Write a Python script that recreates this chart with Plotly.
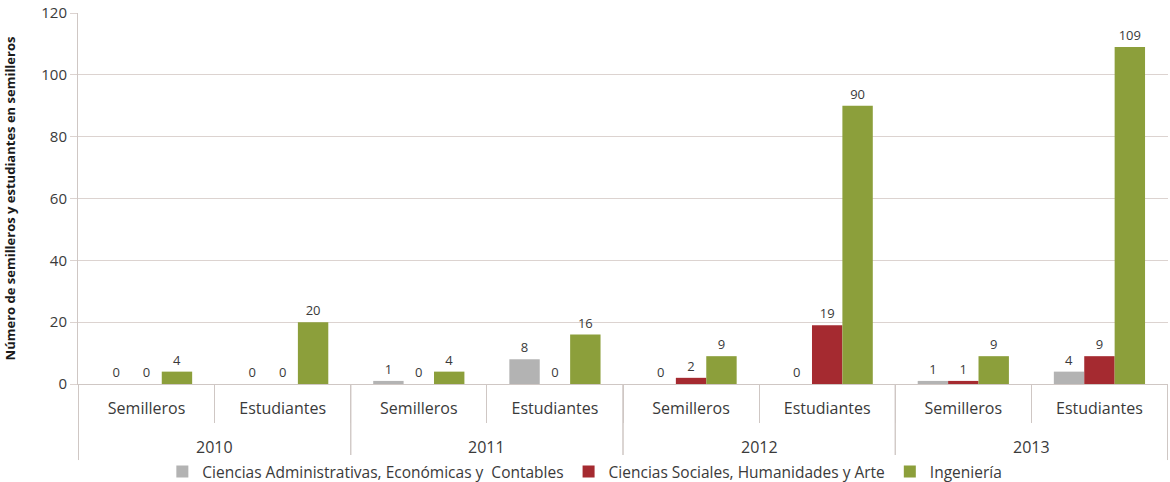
import plotly.graph_objects as go

years = ["2010", "2010", "2011", "2011", "2012", "2012", "2013", "2013"]
tipos = ["Semilleros", "Estudiantes"] * 4
series_names = [
    "Ciencias Administrativas, Económicas y  Contables",
    "Ciencias Sociales, Humanidades y Arte",
    "Ingeniería",
]
admin = [0, 0, 1, 8, 0, 0, 1, 4]
sociales = [0, 0, 0, 0, 2, 19, 1, 9]
ingenieria = [4, 20, 4, 16, 9, 90, 9, 109]
colors = ["#b3b3b3", "#a52a30", "#8c9f3b"]
y_ticks = [0, 20, 40, 60, 80, 100, 120]

FONT = "Open Sans"
TXT = "#3a3a3a"
AXC = "#cfc7c4"

xcats = [f"{y} {t}" for y, t in zip(years, tipos)]

fig = go.Figure()
for name, vals, col in zip(series_names, [admin, sociales, ingenieria], colors):
    fig.add_trace(go.Bar(
        x=xcats, y=vals, name=name,
        marker=dict(color=col, line=dict(color=col, width=0)),
        text=[str(v) for v in vals], textposition="outside",
        textfont=dict(family=FONT, size=13, color=TXT),
        cliponaxis=False,
    ))

# outer-level (year) dividers and labels
unique_years = list(dict.fromkeys(years))
shapes = []
annotations = []
for k, yr in enumerate(unique_years):
    idx = [i for i, v in enumerate(years) if v == yr]
    lo, hi = min(idx) - 0.5, max(idx) + 0.5
    for xb in (lo, hi):
        shapes.append(dict(type="line", xref="x", yref="paper", x0=xb, x1=xb,
                           y0=0, y1=-0.205, line=dict(color=AXC, width=1)))
    annotations.append(dict(text=yr, xref="x", yref="paper", x=(lo + hi) / 2,
                            y=-0.17, yanchor="middle", showarrow=False,
                            font=dict(family=FONT, size=16, color=TXT)))

fig.update_layout(
    width=1170, height=482,
    margin=dict(l=78, r=2, t=13, b=98),
    paper_bgcolor="white", plot_bgcolor="white",
    barmode="group", bargap=0.33, bargroupgap=0,
    font=dict(family=FONT, color=TXT),
    legend=dict(orientation="h", x=0.465, xanchor="center",
                yref="container", y=0.0207, yanchor="middle",
                font=dict(family=FONT, size=15.5, color=TXT), traceorder="normal",
                itemwidth=30, tracegroupgap=0),
    showlegend=True,
    shapes=shapes, annotations=annotations,
)
fig.update_yaxes(
    range=[0, 120], tickvals=y_ticks, ticktext=[str(v) for v in y_ticks],
    showgrid=True, gridcolor="#dcd3d0", gridwidth=1,
    showline=True, linecolor=AXC, linewidth=1,
    ticks="outside", ticklen=7, tickcolor="#dcd3d0",
    tickfont=dict(family=FONT, size=15, color=TXT),
    zeroline=False, automargin=False,
    title=dict(text="<b>Número de semilleros y estudiantes en semilleros</b>",
               font=dict(family=FONT, size=13, color="#1a1a1a"), standoff=22),
)
fig.update_xaxes(
    type="category", categoryorder="array", categoryarray=xcats,
    tickmode="array", tickvals=xcats, ticktext=tipos,
    showline=True, linecolor=AXC, linewidth=1,
    ticks="outside", tickson="boundaries", ticklen=38, tickcolor=AXC,
    ticklabelstandoff=10,
    tickfont=dict(family=FONT, size=16, color=TXT),
    showgrid=False, automargin=False,
)
fig.write_html(
    "out.html",
    config={"displayModeBar": False},
    post_script=(
        "var s=document.documentElement.style, b=document.body.style;"
        "s.margin='0';s.padding='0';s.overflow='hidden';s.height='482px';"
        "b.margin='0';b.padding='0';b.overflow='hidden';b.height='482px';"
    ),
)
